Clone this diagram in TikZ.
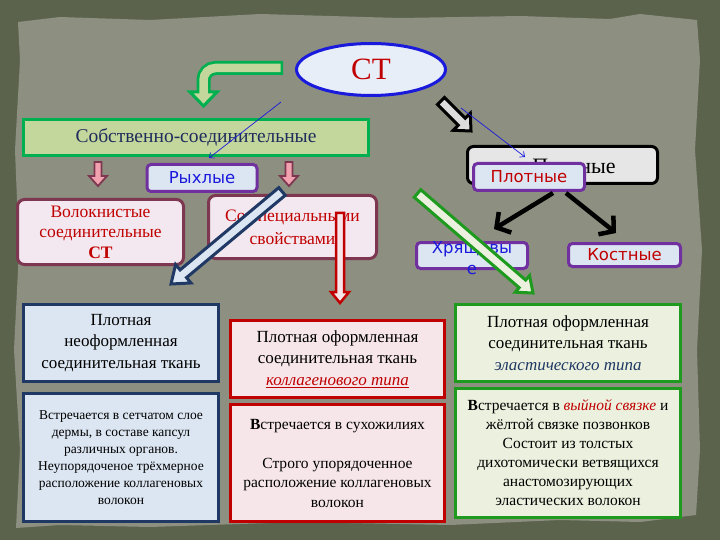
\documentclass[tikz,border=0pt]{standalone}
\usepackage{fontspec}
\setmainfont{Liberation Serif}
\setsansfont{DejaVu Sans}
\usetikzlibrary{shapes.geometric,arrows.meta,calc,positioning}

\definecolor{outerbg}{HTML}{5B634D}
\definecolor{paper}{HTML}{8D8F80}
\definecolor{ctblue}{HTML}{1A1ADC}
\definecolor{ctred}{HTML}{C00000}
\definecolor{ctfill}{HTML}{E8EEF8}
\definecolor{ssgreen}{HTML}{00B050}
\definecolor{ssfill}{HTML}{C3D69B}
\definecolor{sstext}{HTML}{1F2D5C}
\definecolor{purp}{HTML}{7030A0}
\definecolor{lblue}{HTML}{DCE6F2}
\definecolor{maroon}{HTML}{7D3750}
\definecolor{mfill}{HTML}{F3E8EF}
\definecolor{pinkarr}{HTML}{F2A2AE}
\definecolor{navy}{HTML}{1F3864}
\definecolor{dgreen}{HTML}{1E9B1E}
\definecolor{gfill}{HTML}{EBF1DE}
\definecolor{rfill}{HTML}{F6E6EA}
\definecolor{bwfill}{HTML}{DCDCDC}

% block arrow: style, tail, tip, shaft half width, head half width, head length
\newcommand\fatarrow[6]{%
  \coordinate (fa-n) at ($(#3)!#6!(#2)$);
  \draw[#1] ($(#2)!#4!90:(#3)$) -- ($(fa-n)!#4!90:(#3)$) -- ($(fa-n)!#5!90:(#3)$)
    -- (#3) -- ($(fa-n)!#5!-90:(#3)$) -- ($(fa-n)!#4!-90:(#3)$)
    -- ($(#2)!#4!-90:(#3)$) -- cycle;}

\tikzset{
  ctell/.style={ellipse,draw=ctblue,line width=3pt,fill=ctfill,minimum width=149,
    minimum height=52,inner sep=0pt,text=ctred,font=\fontsize{31}{31}\selectfont},
  sobbox/.style={draw=ssgreen,line width=3pt,fill=ssfill,minimum width=345,minimum height=36,
    text=sstext,font=\fontsize{19.5}{19.5}\selectfont},
  purpbox/.style={draw=purp,line width=3pt,fill=lblue,rounded corners=4pt,inner sep=1pt,
    font=\sffamily\fontsize{16.5}{19}\selectfont},
  maroonbox/.style={draw=maroon,line width=3pt,fill=mfill,rounded corners=7pt,text=ctred,
    align=center,font=\fontsize{17.5}{20.5}\selectfont},
  plotbox/.style={draw=black,line width=3pt,fill=bwfill!70!white,rounded corners=6pt},
  tissue/.style={line width=3pt,align=center,font=\fontsize{17}{21.5}\selectfont},
  navybox/.style={tissue,draw=navy,fill=lblue,minimum width=195,minimum height=77},
  redbox/.style={tissue,draw=ctred,fill=rfill,minimum width=214,minimum height=77},
  greenbox/.style={tissue,draw=dgreen,fill=gfill,minimum width=225,minimum height=77},
  thinarrow/.style={draw=ctblue,line width=0.7pt,-{Straight Barb[length=4pt,width=7pt]}},
  blackbarb/.style={draw=black,line width=4.5pt,-{Straight Barb[length=10pt,width=24pt]}},
  pinkarrow/.style={draw=maroon,fill=pinkarr,line width=1.8pt},
}

\begin{document}
\begin{tikzpicture}[x=1pt,y=-1pt]
\useasboundingbox (0,0) rectangle (720,540);
\fill[outerbg] (0,0) rectangle (720,540);
\fill[paper] (18,22) -- (60,17) -- (150,20) -- (260,14) -- (400,18) -- (520,16) -- (610,19)
  -- (640,14) -- (697,20) -- (700,60) -- (695,150) -- (702,250) -- (697,350) -- (700,450)
  -- (696,515) -- (640,522) -- (560,520) -- (450,525) -- (300,522) -- (150,527) -- (60,525)
  -- (16,528) -- (20,450) -- (14,350) -- (19,250) -- (15,150) -- (20,60) -- cycle;

% bent arrow to the left branch
\draw[ssgreen,line width=14pt,rounded corners=12pt] (283,68) -| (203.5,92);
\draw[ssgreen,fill=ssfill,line width=3pt] (190,92) -- (217,92) -- (203.5,106) -- cycle;
\draw[ssfill,line width=8.5pt,rounded corners=12pt] (280.5,68) -| (203.5,95);

\node[ctell] (ct) at (371,69.5) {СТ};

% arrow to the right branch
\coordinate (bw-a) at (441,101);
\coordinate (bw-b) at (471,131);
\fatarrow{draw=black,fill=bwfill,line width=3pt}{bw-a}{bw-b}{5pt}{12pt}{13pt}

\node[sobbox] (sob) at (196,137.5) {Собственно-соединительные};
\node[purpbox,text=ctblue,minimum width=110,minimum height=27] (ryx) at (202,178) {Рыхлые};

\coordinate (pk1-a) at (98,162);
\coordinate (pk1-b) at (98,186);
\coordinate (pk2-a) at (289,162);
\coordinate (pk2-b) at (289,186);
\fatarrow{pinkarrow}{pk1-a}{pk1-b}{3.5pt}{9pt}{10pt}
\fatarrow{pinkarrow}{pk2-a}{pk2-b}{3.5pt}{9pt}{10pt}

\node[maroonbox,minimum width=166,minimum height=65] (volo) at (100.5,232)
  {Волокнистые\\соединительные\\\textbf{СТ}};
\node[maroonbox,minimum width=168,minimum height=63,font=\fontsize{17.5}{23}\selectfont]
  (spec) at (292.5,227) {Со специальными\\свойствами};

% dense branch
\node[plotbox,minimum width=190,minimum height=37] (plot) at (562.5,165) {};
\node[font=\fontsize{22}{22}\selectfont] (plot-t) at (574,166) {Плотные};
\node[purpbox,text=ctred,minimum width=111,minimum height=27] (plotn) at (529,177) {Плотные};
\coordinate (pl-l) at (553,193);
\coordinate (pl-r) at (566,193);
\coordinate (hr-t) at (494,229);
\coordinate (ko-t) at (616,233);
\draw[blackbarb] (pl-l) -- (hr-t);
\draw[blackbarb] (pl-r) -- (ko-t);
\node[purpbox,minimum width=111,minimum height=26] (hryash) at (472,255.5) {};
\node[text=ctblue,align=center,font=\sffamily\fontsize{16.5}{21}\selectfont] (hryash-t)
  at (472,258) {Хрящевы\\е};
\node[purpbox,text=ctred,minimum width=112,minimum height=23] (kost) at (624.5,255) {Костные};

% thin pointers
\coordinate (tl-a) at (281,102);
\coordinate (tl-b) at (209,158);
\coordinate (tr-a) at (461,108);
\coordinate (tr-b) at (525,157);
\draw[thinarrow] (tl-a) -- (tl-b);
\draw[thinarrow] (tr-a) -- (tr-b);

% arrows to the tissues
\coordinate (nv-a) at (282,191.5);
\coordinate (nv-b) at (171,284);
\fatarrow{draw=navy,fill=lblue,line width=3pt}{nv-a}{nv-b}{5pt}{12pt}{16pt}
\coordinate (rd-a) at (340,213);
\coordinate (rd-b) at (340,303);
\fatarrow{draw=ctred,fill=rfill,line width=2.5pt}{rd-a}{rd-b}{4pt}{9pt}{11pt}
\coordinate (gr-a) at (417.5,193.5);
\coordinate (gr-b) at (533,293);
\fatarrow{draw=dgreen,fill=gfill,line width=3pt}{gr-a}{gr-b}{5pt}{11pt}{14pt}

% tissue boxes
\node[navybox] (nf) at (121,343) {Плотная\\неоформленная\\соединительная ткань};
\node[navybox,minimum height=128,below=9pt of nf,font=\fontsize{13.5}{17}\selectfont] (nf2)
  {Встречается в сетчатом слое\\дермы, в составе капсул\\различных органов.\\
   Неупорядоченое трёхмерное\\расположение коллагеновых\\волокон};
\node[redbox] (kol) at (337.5,359) {Плотная оформленная\\соединительная ткань\\
  \textcolor{ctred}{\underline{\textit{коллагенового типа}}}};
\node[redbox,minimum height=117,below=4pt of kol,font=\fontsize{15.5}{19.5}\selectfont] (kol2)
  {\textbf{В}стречается в сухожилиях\\[19.5pt]Строго упорядоченное\\
   расположение коллагеновых\\волокон};
\node[greenbox] (el) at (568,343) {Плотная оформленная\\соединительная ткань\\
  \textcolor{navy}{\textit{эластического типа}}};
\node[greenbox,minimum height=129,below=4pt of el,font=\fontsize{15.5}{19}\selectfont] (el2)
  {\textbf{В}стречается в \textcolor{ctred}{\textit{выйной связке}} и\\жёлтой связке позвонков\\
   Состоит из толстых\\дихотомически ветвящихся\\анастомозирующих\\эластических волокон};
\end{tikzpicture}
\end{document}
